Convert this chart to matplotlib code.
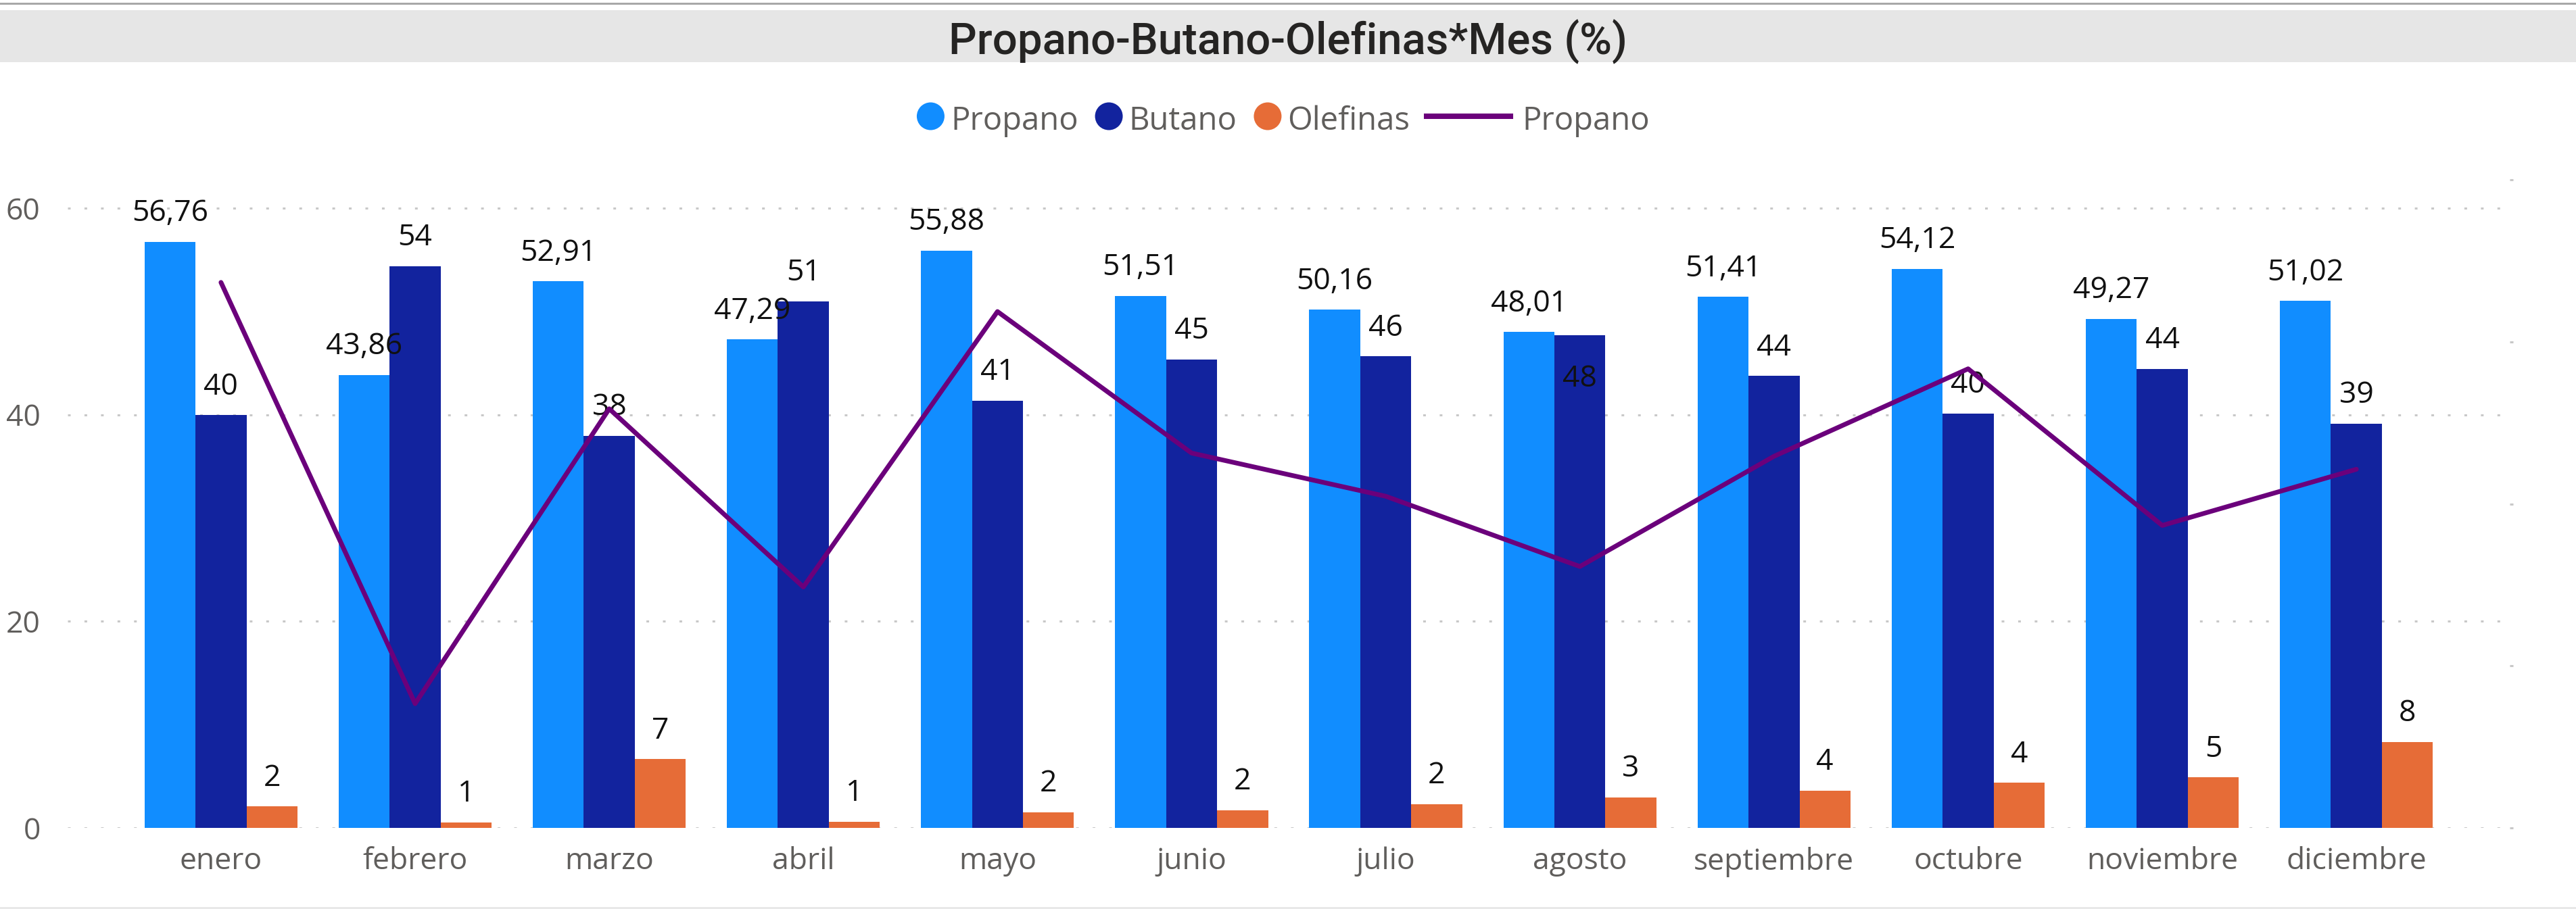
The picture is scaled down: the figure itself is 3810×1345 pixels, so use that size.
import numpy as np
import matplotlib
matplotlib.use("Agg")
import matplotlib.pyplot as plt
from matplotlib.lines import Line2D
from matplotlib.patches import Rectangle, Ellipse

plt.rcParams['font.family'] = ['Open Sans', 'DejaVu Sans']

# datos
meses = ["enero", "febrero", "marzo", "abril", "mayo", "junio", "julio",
         "agosto", "septiembre", "octubre", "noviembre", "diciembre"]
propano = [56.76, 43.86, 52.91, 47.29, 55.88, 51.51, 50.16, 48.01, 51.41, 54.12, 49.27, 51.02]
butano = [39.95, 54.4, 37.96, 51.0, 41.38, 45.37, 45.66, 47.73, 43.76, 40.14, 44.46, 39.16]
olefinas = [2.09, 0.52, 6.67, 0.61, 1.52, 1.7, 2.3, 2.95, 3.6, 4.38, 4.9, 8.31]
propano_linea = [50.5, 11.5, 38.8, 22.3, 47.8, 34.7, 30.7, 24.2, 34.4, 42.5, 28.0, 33.2]

C_PROP = "#118DFF"
C_BUT = "#12239E"
C_OLE = "#E66C37"
C_LIN = "#6B007B"
GRIS = "#605E5C"

W, H = 3810, 1345
fig = plt.figure(figsize=(W / 100, H / 100), dpi=100)


def fx(px):
    return px / W


def fy(py):
    return 1 - py / H


# marco / barra del titulo
fig.add_artist(Rectangle((0, fy(92)), 1, 77 / H, transform=fig.transFigure, color="#e6e6e6", lw=0))
fig.add_artist(Rectangle((0, fy(7)), 1, 3 / H, transform=fig.transFigure, color="#a8a8a8", lw=0))
fig.add_artist(Rectangle((0, 0), 1, 3 / H, transform=fig.transFigure, color="#e8e8e8", lw=0))
fig.text(0.5, fy(80), "Propano-Butano-Olefinas*Mes (%)", ha="center", va="baseline",
         fontsize=47, family=["Roboto", "DejaVu Sans"], fontweight="medium", color="#252423")

# ejes
ax = fig.add_axes([fx(100), fy(1225), fx(3712 - 100), (1225 - 266) / H])
x = np.arange(len(meses))
w = 0.2627
ax.bar(x - w, propano, w, color=C_PROP, zorder=2)
ax.bar(x, butano, w, color=C_BUT, zorder=2)
ax.bar(x + w, olefinas, w, color=C_OLE, zorder=2)

ax.set_xlim(-0.79, 11.79)
ax.set_ylim(0, 62.75)
ax.set_yticks([0, 20, 40, 60])
ax.set_xticks(x)
ax.set_xticklabels(meses)
ax.grid(axis="y", color="#c8c8c8", lw=2.2, linestyle=(0, (1.3, 6.7)))
ax.set_axisbelow(True)
ax.tick_params(axis="both", length=0, labelsize=32, colors=GRIS)
ax.tick_params(axis="y", pad=29)
ax.tick_params(axis="x", pad=20)
for s in ax.spines.values():
    s.set_visible(False)


def etiquetas(desp, valores, fmt, dentro=()):
    for i, v in enumerate(valores):
        txt = fmt.format(v).replace(".", ",")
        dy = -55 if i in dentro else 22
        ax.annotate(txt, (x[i] + desp, v), xytext=(0, dy), textcoords="offset points",
                    ha="center", va="baseline", fontsize=32, color="#111111", zorder=5)


etiquetas(-w, propano, "{:.2f}")
etiquetas(0, butano, "{:.0f}", dentro=(7,))
etiquetas(w, olefinas, "{:.0f}")

# eje secundario para la linea
ax2 = ax.twinx()
ax2.set_ylim(0, 60)
ax2.set_yticks([0, 15, 30, 45, 60])
ax2.set_yticklabels([])
ax2.tick_params(axis="y", length=3.6, width=2.2, color="#c8c8c8", direction="out")
for s in ax2.spines.values():
    s.set_visible(False)
ax2.plot(x, propano_linea, color=C_LIN, lw=5, solid_capstyle="round", solid_joinstyle="round")

# leyenda manual
items = [("Propano", C_PROP, "o"), ("Butano", C_BUT, "o"), ("Olefinas", C_OLE, "o"), ("Propano", C_LIN, "-")]
r = fig.canvas.get_renderer()
textos = []
total = 0
for nombre, col, tipo in items:
    t = fig.text(0, fy(192), nombre, fontsize=34, color=GRIS, va="baseline", ha="left")
    tw = t.get_window_extent(r).width
    textos.append((t, tw))
    total += (41 + 9 if tipo == "o" else 124 + 17) + tw
total += 25 * (len(items) - 1)
x0 = 1898 - total / 2
for (nombre, col, tipo), (t, tw) in zip(items, textos):
    if tipo == "o":
        fig.add_artist(Ellipse((fx(x0 + 20.5), fy(172)), 41 / W, 41 / H, transform=fig.transFigure,
                               color=col, lw=0))
        x0 += 41 + 9
    else:
        fig.add_artist(Line2D([fx(x0), fx(x0 + 124)], [fy(172), fy(172)], transform=fig.transFigure,
                              color=col, lw=5.8))
        x0 += 124 + 17
    t.set_x(fx(x0))
    x0 += tw + 25

fig.savefig("out.png", dpi=100)
